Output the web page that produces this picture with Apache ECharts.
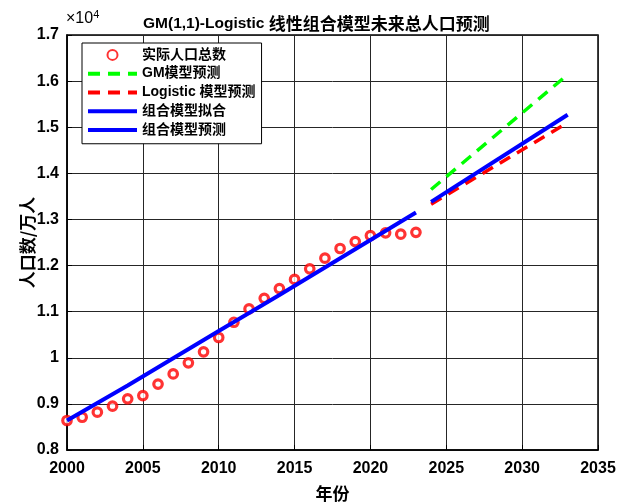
<!DOCTYPE html>
<html>
<head>
<meta charset="utf-8">
<script src="https://cdn.jsdelivr.net/npm/echarts@6/dist/echarts.min.js"></script>
<style>
  html, body { margin: 0; padding: 0; background: #fff; }
  #chart { width: 617px; height: 504px; }
</style>
</head>
<body>
<div id="chart"></div>
<script>
// Population of Guangdong, unit: 万人 (axis shows ×10^4)
const years = [2000, 2001, 2002, 2003, 2004, 2005, 2006, 2007, 2008, 2009, 2010, 2011,
               2012, 2013, 2014, 2015, 2016, 2017, 2018, 2019, 2020, 2021, 2022, 2023];
const actual = [8640, 8710, 8820, 8950, 9110, 9180, 9430, 9650, 9890, 10130, 10440, 10770,
                11060, 11290, 11500, 11700, 11930, 12160, 12370, 12520, 12650, 12710, 12680, 12720];

// Combined model fitted values over the observed period
const fitYears = [2000, 2004, 2010, 2014, 2023];
const fitValues = [8640, 9400, 10580, 11360, 13150];

// Forecasts for 2024-2033
const predYears = [2024, 2033];
const gmPred = [13650, 16140];
const logisticPred = [13330, 15100];
const combinedPred = [13380, 15270];

const yTicks = [8000, 9000, 10000, 11000, 12000, 13000, 14000, 15000, 16000, 17000];

const latin = '"Liberation Sans", Arial, "Noto Sans CJK SC", sans-serif';
const cjk = '"Noto Sans CJK SC", "Liberation Sans", sans-serif';

const pairs = (xs, ys) => xs.map((x, i) => [x, ys[i]]);

const dashed = [12, 8];

// line entries in the legend: show only the stroke, no marker in the middle
const lineEntry = (name, width, type) => ({
  name,
  itemStyle: { opacity: 0 },
  lineStyle: { width, type }
});

const chart = echarts.init(document.getElementById('chart'), null, { renderer: 'canvas' });

chart.setOption({
  animation: false,
  backgroundColor: '#fff',
  title: {
    text: '{a|GM(1,1)-Logistic }{b|线性组合模型未来总人口预测}',
    left: 138,
    top: 10,
    textStyle: {
      rich: {
        a: { fontFamily: latin, fontWeight: 'bold', fontSize: 15.5, color: '#000' },
        b: { fontFamily: cjk, fontWeight: 'bold', fontSize: 17, color: '#000' }
      }
    }
  },
  graphic: [{
    type: 'text',
    left: 66,
    top: 9,
    style: {
      text: '×10{s|4}',
      fontFamily: latin,
      fontSize: 16,
      fill: '#000',
      rich: { s: { fontSize: 11, verticalAlign: 'top', padding: [0, 0, 9, 0], fontFamily: latin } }
    }
  }],
  legend: {
    orient: 'vertical',
    left: 82,
    top: 43,
    padding: [3, 6, 5, 4],
    itemGap: 1,
    itemWidth: 49,
    itemHeight: 10,
    backgroundColor: '#fff',
    borderColor: '#000',
    borderWidth: 1,
    borderRadius: 0,
    textStyle: {
      fontFamily: latin,
      fontWeight: 'bold',
      fontSize: 14,
      color: '#000',
      lineHeight: 17.75
    },
    data: [
      { name: '实际人口总数' },
      lineEntry('GM模型预测', 4, dashed),
      lineEntry('Logistic 模型预测', 4, dashed),
      lineEntry('组合模型拟合', 4, 'solid'),
      lineEntry('组合模型预测', 4, 'solid')
    ]
  },
  grid: {
    left: 67,
    right: 19,
    top: 35,
    bottom: 54,
    outerBoundsMode: 'none',
    show: true,
    borderColor: '#000',
    borderWidth: 1.5,
    backgroundColor: '#fff'
  },
  xAxis: {
    type: 'value',
    min: 2000,
    max: 2035,
    interval: 5,
    name: '年份',
    nameLocation: 'middle',
    nameGap: 35,
    nameMoveOverlap: false,
    nameTextStyle: { fontFamily: cjk, fontWeight: 'bold', fontSize: 17, color: '#000' },
    axisLine: { show: true, lineStyle: { color: '#000', width: 1.5 } },
    axisTick: { show: true, inside: true, length: 5, lineStyle: { color: '#000' } },
    axisLabel: {
      fontFamily: latin, fontWeight: 'bold', fontSize: 16, color: '#000', margin: 11,
      formatter: v => String(v)
    },
    splitLine: { show: true, lineStyle: { color: '#262626', width: 1 } }
  },
  yAxis: {
    type: 'value',
    min: yTicks[0],
    max: yTicks[yTicks.length - 1],
    interval: 1000,
    name: '人口数/万人',
    nameLocation: 'middle',
    nameGap: 31,
    nameMoveOverlap: false,
    nameTextStyle: { fontFamily: cjk, fontWeight: 'bold', fontSize: 17, color: '#000' },
    axisLine: { show: true, lineStyle: { color: '#000', width: 1.5 } },
    axisTick: { show: true, inside: true, length: 5, lineStyle: { color: '#000' } },
    axisLabel: {
      fontFamily: latin, fontWeight: 'bold', fontSize: 16, color: '#000', margin: 8,
      formatter: v => String(Math.round(v / 100) / 100)
    },
    splitLine: { show: true, lineStyle: { color: '#262626', width: 1 } }
  },
  series: [
    {
      name: '实际人口总数',
      type: 'scatter',
      data: pairs(years, actual),
      symbol: 'circle',
      symbolSize: 8.5,
      itemStyle: { color: '#fff', borderColor: '#ff0000', borderWidth: 3.2 },
      z: 3
    },
    {
      name: 'GM模型预测',
      type: 'line',
      data: pairs(predYears, gmPred),
      symbol: 'none',
      lineStyle: { color: '#00ff00', width: 3.5, type: dashed },
      itemStyle: { color: '#00ff00' },
      z: 4
    },
    {
      name: 'Logistic 模型预测',
      type: 'line',
      data: pairs(predYears, logisticPred),
      symbol: 'none',
      lineStyle: { color: '#ff0000', width: 3.5, type: dashed },
      itemStyle: { color: '#ff0000' },
      z: 5
    },
    {
      name: '组合模型拟合',
      type: 'line',
      data: pairs(fitYears, fitValues),
      symbol: 'none',
      lineStyle: { color: '#0000ff', width: 4 },
      itemStyle: { color: '#0000ff' },
      z: 6
    },
    {
      name: '组合模型预测',
      type: 'line',
      data: pairs(predYears, combinedPred),
      symbol: 'none',
      lineStyle: { color: '#0000ff', width: 4 },
      itemStyle: { color: '#0000ff' },
      z: 7
    }
  ]
});
</script>
</body>
</html>
